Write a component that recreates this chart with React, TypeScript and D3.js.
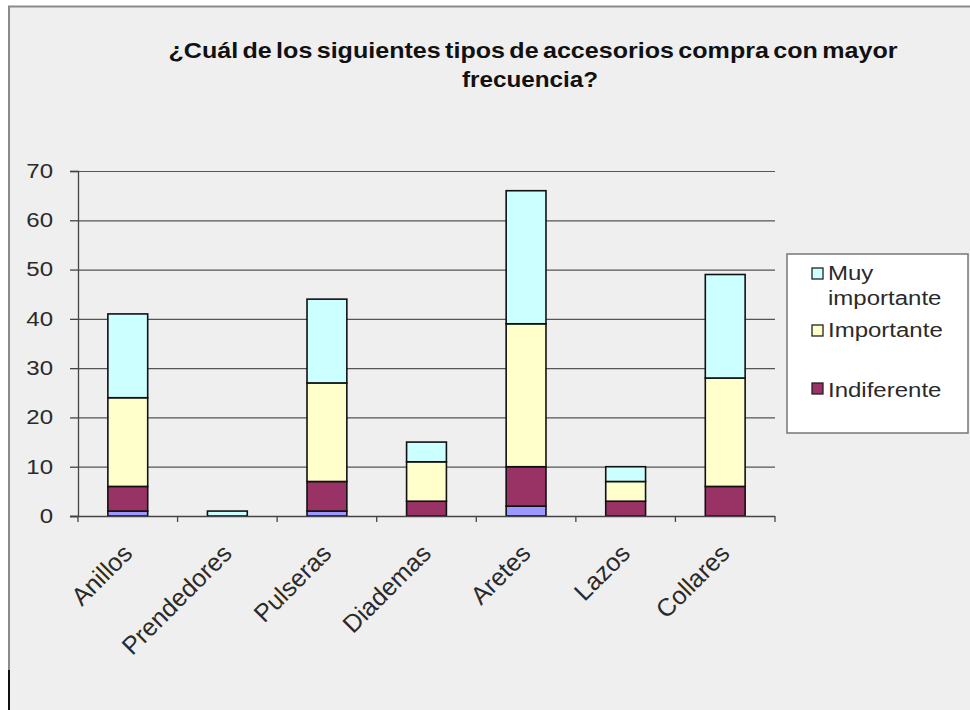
import { useEffect, useRef } from "react";
import * as d3 from "d3";

// ── Data ────────────────────────────────────────────────────────────────
const CATEGORIES = ["Anillos", "Prendedores", "Pulseras", "Diademas", "Aretes", "Lazos", "Collares"];

// stacked bottom → top
const OTRO        = [1, 0, 1, 0, 2, 0, 0];   // thin blue segment, not in legend
const INDIFERENTE = [5, 0, 6, 3, 8, 3, 6];
const IMPORTANTE  = [18, 0, 20, 8, 29, 4, 22];
const MUY_IMPORT  = [17, 1, 17, 4, 27, 3, 21];

const Y_TICKS = [0, 10, 20, 30, 40, 50, 60, 70];

const TITLE_LINES = ["¿Cuál de los siguientes tipos de accesorios compra con mayor", "frecuencia?"];

const SERIES = [
  { key: "otro",           values: OTRO,        color: "#9999ff" },
  { key: "Indiferente",    values: INDIFERENTE, color: "#993366" },
  { key: "Importante",     values: IMPORTANTE,  color: "#ffffcc" },
  { key: "Muy importante", values: MUY_IMPORT,  color: "#ccffff" },
];

const LEGEND = [
  { lines: ["Muy", "importante"], color: "#ccffff" },
  { lines: ["Importante"],        color: "#ffffcc" },
  { lines: ["Indiferente"],       color: "#993366" },
];

const W = 970;
const H = 710;
const PLOT = { left: 78, right: 775, top: 171, bottom: 516 };
const FONT = "'Liberation Sans', Arial, sans-serif";
const STRETCH = 1.2; // source screenshot is stretched horizontally

// widen horizontal text the way the original screenshot is stretched
function stretch(sel: d3.Selection<SVGTextElement, any, any, any>, k = STRETCH) {
  sel.each(function () {
    const len = this.getComputedTextLength();
    d3.select(this).attr("textLength", len * k).attr("lengthAdjust", "spacingAndGlyphs");
  });
}

export default function App() {
  const ref = useRef<SVGSVGElement>(null);

  useEffect(() => {
    if (!ref.current) return;
    const svg = d3.select(ref.current);
    svg.selectAll("*").remove();

    // ── background + frame ──
    svg.append("rect").attr("width", W).attr("height", H).attr("fill", "#ffffff");
    svg.append("rect")
      .attr("x", 9).attr("y", 6).attr("width", W - 9).attr("height", H - 6)
      .attr("fill", "#efefef");
    svg.append("line").attr("x1", 8).attr("x2", W).attr("y1", 6.5).attr("y2", 6.5)
      .attr("stroke", "#8a8a8a").attr("stroke-width", 2);
    svg.append("line").attr("x1", 9).attr("x2", 9).attr("y1", 6).attr("y2", 670)
      .attr("stroke", "#8a8a8a").attr("stroke-width", 2);
    svg.append("line").attr("x1", 9).attr("x2", 9).attr("y1", 670).attr("y2", H)
      .attr("stroke", "#111").attr("stroke-width", 2);

    // ── title (wide glyphs, tight word spacing) ──
    const titleSpec = [
      { x: 533, y: 58, width: 729 },
      { x: 530, y: 87, width: 136 },
    ];
    TITLE_LINES.forEach((line, i) => {
      const spec = titleSpec[i];
      const t = svg.append("text")
        .attr("x", spec.x).attr("y", spec.y)
        .attr("text-anchor", "middle")
        .attr("font-family", FONT)
        .attr("font-weight", "bold")
        .attr("font-size", 22)
        .attr("fill", "#111")
        .text(line);
      const node = t.node()!;
      const natural = node.getComputedTextLength();
      const spaces = (line.match(/ /g) || []).length;
      if (spaces > 0) {
        const ws = (spec.width / 1.14 - natural) / spaces;
        t.attr("word-spacing", ws);
      }
      t.attr("textLength", spec.width).attr("lengthAdjust", "spacingAndGlyphs");
    });

    const x = d3.scaleBand<string>().domain(CATEGORIES)
      .range([PLOT.left, PLOT.right]).paddingInner(0.6).paddingOuter(0.3);
    const xBand = d3.scaleBand<string>().domain(CATEGORIES).range([PLOT.left, PLOT.right]);
    const y = d3.scaleLinear().domain([0, 70]).range([PLOT.bottom, PLOT.top]);

    // ── gridlines ──
    svg.append("g").selectAll("line").data(Y_TICKS.filter((t) => t > 0)).enter()
      .append("line")
      .attr("x1", PLOT.left).attr("x2", PLOT.right)
      .attr("y1", (d) => y(d) + 0.5).attr("y2", (d) => y(d) + 0.5)
      .attr("stroke", "#555").attr("stroke-width", 1.2);

    // ── stacked bars ──
    const rows = CATEGORIES.map((c, i) => {
      const r: Record<string, number | string> = { cat: c };
      SERIES.forEach((s) => (r[s.key] = s.values[i]));
      return r;
    });
    const stacked = d3.stack<Record<string, number | string>>()
      .keys(SERIES.map((s) => s.key))
      .value((d, k) => d[k] as number)(rows);

    stacked.forEach((layer, li) => {
      svg.append("g").selectAll("rect").data(layer.filter((d) => d[1] - d[0] > 0)).enter()
        .append("rect")
        .attr("x", (d) => x(d.data.cat as string)!)
        .attr("width", x.bandwidth())
        .attr("y", (d) => y(d[1]))
        .attr("height", (d) => y(d[0]) - y(d[1]))
        .attr("fill", SERIES[li].color)
        .attr("stroke", "#111")
        .attr("stroke-width", 1.6);
    });

    // ── y axis ──
    const yAxis = svg.append("g").attr("transform", `translate(${PLOT.left},0)`)
      .call(d3.axisLeft(y).tickValues(Y_TICKS).tickSize(8).tickPadding(17).tickFormat(d3.format("d")));
    yAxis.select(".domain").attr("stroke", "#444").attr("stroke-width", 1.3);
    yAxis.selectAll(".tick line").attr("stroke", "#444").attr("stroke-width", 1.3);
    const yt = yAxis.selectAll<SVGTextElement, unknown>(".tick text")
      .attr("font-family", FONT).attr("font-size", 20).attr("fill", "#2a2a2a");
    stretch(yt);

    // ── x axis ──
    const xAxisG = svg.append("g").attr("transform", `translate(0,${PLOT.bottom})`);
    xAxisG.append("line").attr("x1", PLOT.left - 8).attr("x2", PLOT.right)
      .attr("y1", 0.5).attr("y2", 0.5).attr("stroke", "#444").attr("stroke-width", 1.3);
    const bounds = [...CATEGORIES.map((c) => xBand(c)!), PLOT.right];
    xAxisG.selectAll("line.tk").data(bounds).enter().append("line")
      .attr("class", "tk")
      .attr("x1", (d) => d).attr("x2", (d) => d).attr("y1", 0).attr("y2", 6)
      .attr("stroke", "#444").attr("stroke-width", 1.3);
    xAxisG.selectAll("text").data(CATEGORIES).enter().append("text")
      .attr("transform", (d) => `translate(${xBand(d)! + xBand.bandwidth() / 2 + 6},39) rotate(-45)`)
      .attr("text-anchor", "end")
      .attr("font-family", FONT)
      .attr("font-size", 25)
      .attr("fill", "#2a2a2a")
      .text((d) => d);

    // ── legend ──
    const lg = svg.append("g");
    lg.append("rect").attr("x", 787).attr("y", 254).attr("width", 181).attr("height", 179)
      .attr("fill", "#ffffff").attr("stroke", "#777").attr("stroke-width", 1.5);
    const squareY = [268, 325, 383];
    const baseY = [[280, 305], [337], [397]];
    LEGEND.forEach((item, i) => {
      lg.append("rect").attr("x", 812).attr("y", squareY[i]).attr("width", 11).attr("height", 11)
        .attr("fill", item.color).attr("stroke", "#222").attr("stroke-width", 1.3);
      item.lines.forEach((line, j) => {
        const t = lg.append("text")
          .attr("x", 828).attr("y", baseY[i][j])
          .attr("font-family", FONT).attr("font-size", 20).attr("fill", "#2a2a2a")
          .text(line);
        stretch(t);
      });
    });
  }, []);

  return (
    <svg
      ref={ref}
      width={W}
      height={H}
      style={{ position: "absolute", left: 0, top: 0, display: "block" }}
    />
  );
}
